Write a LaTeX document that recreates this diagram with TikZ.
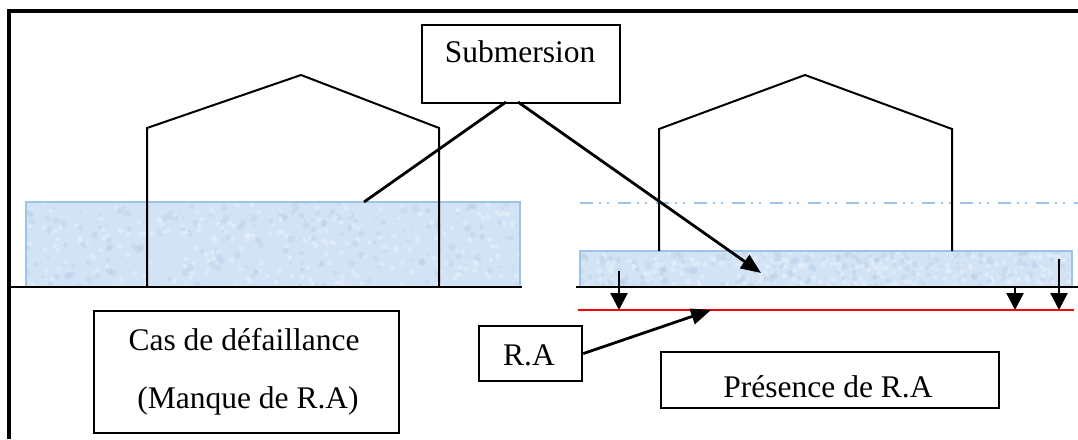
\documentclass[tikz,border=0pt]{standalone}
\usepackage{fontspec}
\setmainfont{Liberation Serif}
\usetikzlibrary{arrows.meta}
\definecolor{waterfill}{RGB}{210,227,245}
\definecolor{waterspeck}{RGB}{180,203,228}
\definecolor{waterlight}{RGB}{232,241,251}
\definecolor{waterline}{RGB}{157,195,230}
\begin{document}
\begin{tikzpicture}[x=1pt,y=-1pt,
  lbl/.style={font=\fontsize{31.5}{36}\selectfont, inner sep=0pt, anchor=base},
  boxframe/.style={draw, line width=2.2pt, inner sep=0pt, anchor=north west},
  house/.style={line width=2pt, line join=miter},
  ground/.style={line width=2.4pt},
  pointer/.style={line width=2.8pt, -{Triangle[length=20pt,width=16pt]}},
  drop/.style={line width=2.4pt, -{Triangle[length=17pt,width=17pt]}},
  lead/.style={line width=2.8pt}]
\useasboundingbox (0,0) rectangle (1078,439);

% mottled water texture inside a given rectangle
\newcommand{\mottle}[4]{%
  \begin{scope}
    \clip (#1,#2) rectangle (#3,#4);
    \pgfmathsetseed{7}
    \foreach \k in {1,...,220} {
      \pgfmathsetmacro{\px}{#1+rnd*(#3-#1)}
      \pgfmathsetmacro{\py}{#2+rnd*(#4-#2)}
      \pgfmathsetmacro{\pr}{1+rnd*3}
      \fill[waterspeck, opacity=0.35] (\px,\py) circle[radius=\pr];
      \pgfmathsetmacro{\qx}{#1+rnd*(#3-#1)}
      \pgfmathsetmacro{\qy}{#2+rnd*(#4-#2)}
      \fill[waterlight, opacity=0.5] (\qx,\qy) circle[radius=2.5];
    }
  \end{scope}}

% outer frame (top and left edges)
\draw[line width=4pt] (9,439) -- (9,11) -- (1078,11);

% left case: flooded house
\fill[waterfill] (26,202) rectangle (520,287);
\mottle{26}{202}{520}{287}
\draw[waterline, line width=2pt] (26,287) -- (26,202) -- (520,202) -- (520,287);
\draw[house] (147,287) -- (147,128) -- (301,75) -- (439,128) -- (439,287);
\draw[ground] (10,287) -- (522,287);

% right case: house on the raised slab
\draw[waterline, line width=2.2pt, dash pattern=on 13pt off 6pt on 2pt off 6pt on 2pt off 9pt]
  (580,203) -- (1078,203);
\fill[waterfill] (580,251) rectangle (1072,287);
\mottle{580}{251}{1072}{287}
\draw[waterline, line width=2pt] (580,287) -- (580,251) -- (1072,251) -- (1072,287);
\draw[house] (659,251) -- (659,129) -- (805,75) -- (952,129) -- (952,251);
\draw[ground] (576,287) -- (1078,287);
\draw[red, line width=2.4pt] (578,310) -- (1074,310);

% coordinates for connector ends
\coordinate (w1) at (364,202);
\coordinate (w2) at (761,273);
\coordinate (ra) at (711,310);
\coordinate (d1s) at (619,271);
\coordinate (d1e) at (619,310);
\coordinate (d2s) at (1015,287);
\coordinate (d2e) at (1015,310);
\coordinate (d3s) at (1059,259);
\coordinate (d3e) at (1059,310);

% labels
\node[boxframe, minimum width=198pt, minimum height=78pt] (sub) at (421,24) {};
\node[lbl] (subt) at (520,62) {Submersion};

\node[boxframe, minimum width=305pt, minimum height=122pt] (cas) at (93,310) {};
\node[lbl] (cast1) at (244,350) {Cas de défaillance};
\node[lbl] (cast2) at (248,408) {(Manque de R.A)};

\node[boxframe, minimum width=103pt, minimum height=55pt] (rabox) at (478,325) {};
\node[lbl] (rat) at (529,365) {R.A};

\node[boxframe, minimum width=338pt, minimum height=56pt] (pres) at (660,351) {};
\node[lbl] (prest) at (828,397) {Présence de R.A};

% connectors
\coordinate (s1) at (506,102);
\coordinate (s2) at (518,102);
\draw[lead] (s1) -- (w1);
\draw[pointer] (s2) -- (w2);
\draw[pointer] (rabox.east) -- (ra);
\draw[drop] (d1s) -- (d1e);
\draw[drop] (d2s) -- (d2e);
\draw[drop] (d3s) -- (d3e);
\end{tikzpicture}
\end{document}
